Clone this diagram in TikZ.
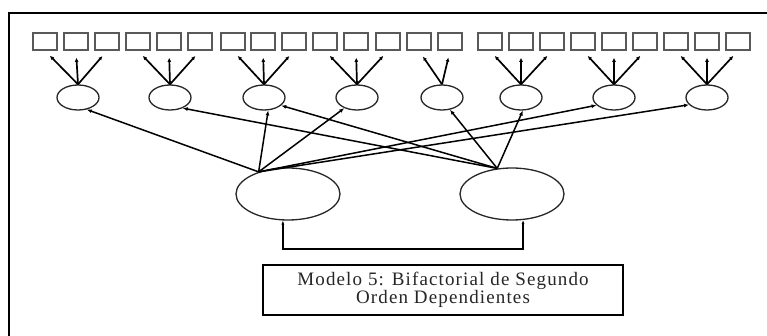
\documentclass[tikz,border=0pt]{standalone}
\usepackage{fontspec}
\setmainfont{Liberation Serif}
\usetikzlibrary{shapes.geometric,arrows.meta}
\tikzset{
  sq/.style={draw=black!65,line width=1.6pt,rectangle,minimum width=24pt,minimum height=17pt,inner sep=0pt},
  sell/.style={draw=black!85,line width=1.3pt,ellipse,minimum width=42pt,minimum height=25pt,inner sep=0pt},
  bell/.style={draw=black!85,line width=1.3pt,ellipse,minimum width=104pt,minimum height=52pt,inner sep=0pt},
  ind/.style={line width=1.7pt,-{Latex[length=4pt,width=4pt]},shorten >=7pt},
  path/.style={line width=1.5pt,-{Latex[length=5pt,width=4pt]}},
  cov/.style={line width=1.4pt,{Latex[length=4pt,width=3pt]}-{Latex[length=4pt,width=3pt]}},
  lbl/.style={draw,line width=1.7pt,rectangle,minimum width=360pt,minimum height=50pt,inner sep=0pt,align=center,font=\fontsize{19pt}{18.5pt}\selectfont\addfontfeatures{LetterSpace=6},text=black!85}
}
\begin{document}
\begin{tikzpicture}[x=1pt,y=-1pt]
\useasboundingbox (0,0) rectangle (767,336);
\fill[white] (0,0) rectangle (767,336);
% frame
\draw[line width=1.7pt] (9,336) -- (9,13) -- (767,13);
% indicator squares
\foreach \i/\x in {1/45,2/76,3/107,4/138,5/169,6/200,7/233,8/263,9/294,10/325,11/356,12/388,13/419,14/450,15/490,16/521,17/552,18/583,19/614,20/645,21/676,22/707,23/738}{
  \node[sq] (s\i) at (\x,41.5) {};
}
% first-order factors
\foreach \i/\x in {1/78,2/170,3/264,4/357,5/442,6/521,7/614,8/707}{
  \node[sell] (e\i) at (\x,97.5) {};
}
% second-order factors
\node[bell] (L) at (288,194) {};
\node[bell] (R) at (512,194) {};
% loadings to indicators
\foreach \e/\list in {1/{1,2,3},2/{4,5,6},3/{7,8,9},4/{10,11,12},5/{13,14},6/{15,16,17},7/{18,19,20},8/{21,22,23}}{
  \foreach \s in \list {
    \draw[ind] (e\e.north) -- (s\s.south);
  }
}
% second-order paths
\draw[path] (L.143) -- (e1.-54);
\draw[path] (L.143) -- (e3.-72);
\draw[path] (L.143) -- (e4.-140);
\draw[path] (L.143) -- (e7.-156);
\draw[path] (L.143) -- (e8.-158);
\draw[path] (R.120) -- (e2.-40);
\draw[path] (R.120) -- (e3.-25);
\draw[path] (R.120) -- (e5.-57);
\draw[path] (R.120) -- (e6.-82);
% covariance
\draw[cov] (L.-101) -- ++(0,28.5) -| (R.-67);
% label
\node[lbl] (t) at (443,290) {Modelo 5: Bifactorial de Segundo\\Orden Dependientes};
\end{tikzpicture}
\end{document}
